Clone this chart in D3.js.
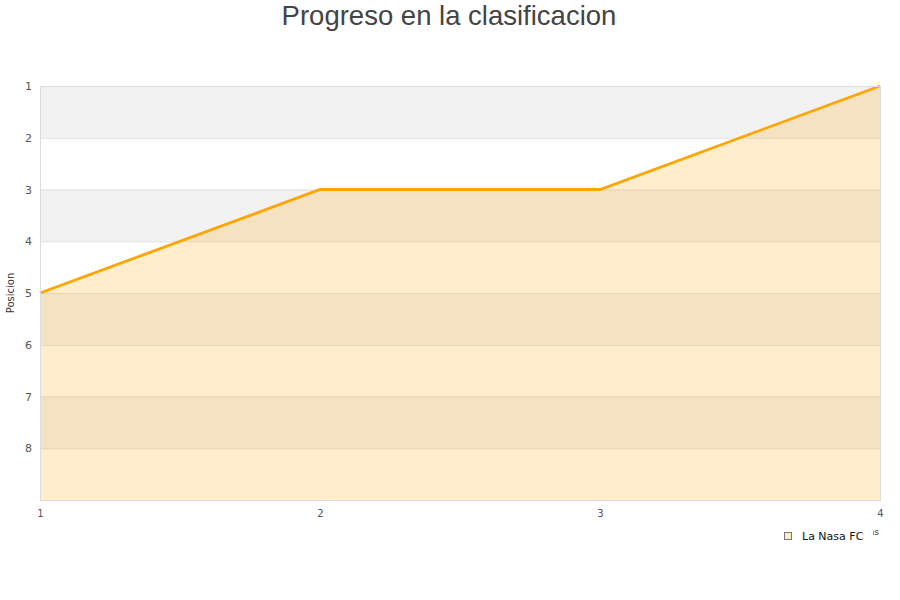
<!DOCTYPE html>
<html><head><meta charset="utf-8">
<script src="https://cdn.jsdelivr.net/npm/d3@7"></script>
<style>body{margin:0;background:#fff;} svg{display:block;font-family:"Liberation Sans",Arial,sans-serif;}</style>
</head><body>
<svg id="c" width="900" height="600"></svg>
<script>
const jornadas = [1, 2, 3, 4];
const posiciones = [5, 3, 3, 1];
const yTicks = [1, 2, 3, 4, 5, 6, 7, 8];
const title = "Progreso en la clasificacion";
const seriesName = "La Nasa FC";
const yTitle = "Posicion";
const xTitle = "Jornadas";

const svg = d3.select("#c");
const L = 40, R = 880, T = 86, B = 500;
const x = d3.scaleLinear().domain([1, 4]).range([L, R]);
const y = d3.scaleLinear().domain([1, 9]).range([T, B]);

const bands = [1, 3, 5, 7];
svg.append("g").selectAll("rect").data(bands).join("rect")
  .attr("x", L).attr("width", R - L)
  .attr("y", d => y(d)).attr("height", d => y(d + 1) - y(d))
  .attr("fill", "#f2f2f2");

svg.append("g").selectAll("line").data(d3.range(1, 10)).join("line")
  .attr("x1", L).attr("x2", R)
  .attr("y1", d => y(d) + 0.5).attr("y2", d => y(d) + 0.5)
  .attr("stroke", "#e0e0e0").attr("stroke-width", 1);

const data = jornadas.map((j, i) => ({x: j, y: posiciones[i]}));

svg.append("path").datum(data)
  .attr("d", d3.area().x(d => x(d.x)).y0(y(9)).y1(d => y(d.y)))
  .attr("fill", "rgba(255,165,0,0.2)");

svg.append("path").datum(data)
  .attr("d", d3.line().x(d => x(d.x)).y(d => y(d.y)))
  .attr("fill", "none").attr("stroke", "#ffa500").attr("stroke-width", 2.8);

svg.append("rect").attr("x", L + 0.5).attr("y", T + 0.5)
  .attr("width", R - L).attr("height", B - T)
  .attr("fill", "none").attr("stroke", "#dddddd").attr("stroke-width", 1);

const yAxis = d3.axisLeft(y).tickValues(yTicks).tickSize(0).tickPadding(8);
const gy = svg.append("g").attr("transform", `translate(${L},0)`).call(yAxis);
gy.select(".domain").remove();
gy.selectAll("text").attr("font-size", 11).attr("fill", "#555")
  .attr("font-family", "DejaVu Sans, sans-serif");

const xAxis = d3.axisBottom(x).tickValues(jornadas).tickSize(0).tickPadding(10).tickFormat(d3.format("d"));
const gx = svg.append("g").attr("transform", `translate(0,${B})`).call(xAxis);
gx.select(".domain").remove();
gx.selectAll("text").attr("font-size", 10).attr("fill", "#555")
  .attr("font-family", "DejaVu Sans, sans-serif");

svg.append("text").attr("transform", `translate(14,${y(5)}) rotate(-90)`)
  .attr("text-anchor", "middle").attr("font-size", 10).attr("fill", "#333")
  .attr("font-family", "DejaVu Sans, sans-serif").text(yTitle);

// x title, mostly hidden behind the legend as in the reference
svg.append("text").attr("x", 879).attr("y", 535)
  .attr("text-anchor", "end").attr("font-size", 9).attr("fill", "#333")
  .attr("font-family", "DejaVu Sans, sans-serif").text(xTitle);

const lg = svg.append("g");
lg.append("rect").attr("x", 778).attr("y", 528).attr("width", 95).attr("height", 20).attr("fill", "#fff");
lg.append("rect").attr("x", 784.5).attr("y", 532.5).attr("width", 7).attr("height", 7)
  .attr("fill", "#ffecc8").attr("stroke", "#777").attr("stroke-width", 1);
lg.append("text").attr("x", 802).attr("y", 540).attr("font-size", 11).attr("fill", "#111")
  .attr("font-family", "DejaVu Sans, sans-serif").text(seriesName);

svg.append("text").attr("x", 449).attr("y", 25).attr("text-anchor", "middle")
  .attr("font-size", 27.5).attr("fill", "#444").text(title);
</script>
</body></html>
